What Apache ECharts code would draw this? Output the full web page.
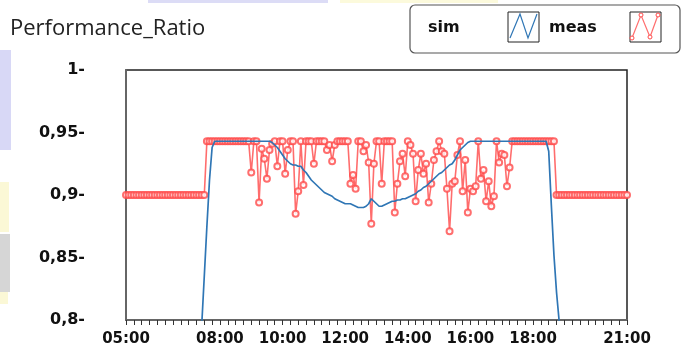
<!DOCTYPE html>
<html>
<head>
<meta charset="utf-8">
<title>Performance_Ratio</title>
<script src="https://cdn.jsdelivr.net/npm/echarts@6/dist/echarts.min.js"></script>
<style>
  html, body { margin: 0; padding: 0; background: #fff; }
  #chart { width: 684px; height: 352px; }
</style>
</head>
<body>
<div id="chart"></div>
<script>
// one value every 5 minutes, from 05:00 to 21:00
var startHour = 5;
var stepMinutes = 5;
var labelHours = [5, 8, 10, 12, 14, 16, 18, 21];

var simValues = [
  null, null, null, null, null, null, null, null, null, null, null, null,
  null, null, null, null, null, null, null, null, null, null, null, null,
  null, null, null, null, 0.70, 0.795, 0.835, 0.875, 0.912, 0.938, 0.943, 0.943,
  0.943, 0.943, 0.943, 0.943, 0.943, 0.943, 0.943, 0.943, 0.943, 0.943, 0.943, 0.943,
  0.943, 0.943, 0.943, 0.943, 0.943, 0.943, 0.943, 0.943, 0.942, 0.940, 0.938, 0.935,
  0.932, 0.929, 0.927, 0.925, 0.924, 0.924, 0.923, 0.923, 0.920, 0.918, 0.915, 0.912,
  0.910, 0.908, 0.906, 0.904, 0.902, 0.901, 0.900, 0.899, 0.897, 0.896, 0.895, 0.894,
  0.893, 0.893, 0.893, 0.892, 0.891, 0.890, 0.890, 0.890, 0.891, 0.893, 0.897, 0.895,
  0.893, 0.891, 0.891, 0.892, 0.893, 0.894, 0.895, 0.895, 0.896, 0.896, 0.897, 0.897,
  0.898, 0.899, 0.900, 0.901, 0.903, 0.904, 0.906, 0.907, 0.909, 0.911, 0.913, 0.915,
  0.917, 0.918, 0.920, 0.922, 0.924, 0.925, 0.928, 0.932, 0.936, 0.938, 0.940, 0.942,
  0.943, 0.943, 0.943, 0.943, 0.943, 0.943, 0.943, 0.943, 0.943, 0.943, 0.943, 0.943,
  0.943, 0.943, 0.943, 0.943, 0.943, 0.943, 0.943, 0.943, 0.943, 0.943, 0.943, 0.943,
  0.943, 0.943, 0.943, 0.943, 0.943, 0.943, 0.935, 0.892, 0.852, 0.822, 0.799, 0.70,
  null, null, null, null, null, null, null, null, null, null, null, null,
  null, null, null, null, null, null, null, null, null, null, null, null,
  null
];

var measValues = [
  0.9, 0.9, 0.9, 0.9, 0.9, 0.9, 0.9, 0.9, 0.9, 0.9, 0.9, 0.9,
  0.9, 0.9, 0.9, 0.9, 0.9, 0.9, 0.9, 0.9, 0.9, 0.9, 0.9, 0.9,
  0.9, 0.9, 0.9, 0.9, 0.9, 0.9, 0.9, 0.943, 0.943, 0.943, 0.943, 0.943,
  0.943, 0.943, 0.943, 0.943, 0.943, 0.943, 0.943, 0.943, 0.943, 0.943, 0.943, 0.943,
  0.918, 0.943, 0.943, 0.894, 0.937, 0.929, 0.913, 0.936, 0.941, 0.943, 0.923, 0.943,
  0.943, 0.917, 0.936, 0.943, 0.943, 0.885, 0.903, 0.943, 0.908, 0.943, 0.943, 0.943,
  0.925, 0.943, 0.943, 0.943, 0.943, 0.936, 0.940, 0.927, 0.940, 0.943, 0.943, 0.943,
  0.943, 0.943, 0.909, 0.916, 0.905, 0.943, 0.943, 0.935, 0.940, 0.926, 0.877, 0.925,
  0.943, 0.943, 0.909, 0.943, 0.943, 0.943, 0.943, 0.886, 0.909, 0.927, 0.933, 0.915,
  0.943, 0.940, 0.933, 0.895, 0.920, 0.933, 0.917, 0.925, 0.894, 0.909, 0.928, 0.935,
  0.943, 0.935, 0.933, 0.905, 0.871, 0.909, 0.911, 0.932, 0.943, 0.903, 0.928, 0.886,
  0.905, 0.903, 0.907, 0.943, 0.913, 0.920, 0.895, 0.911, 0.891, 0.899, 0.943, 0.926,
  0.933, 0.932, 0.907, 0.922, 0.943, 0.943, 0.943, 0.943, 0.943, 0.943, 0.943, 0.943,
  0.943, 0.943, 0.943, 0.943, 0.943, 0.943, 0.943, 0.943, 0.943, 0.9, 0.9, 0.9,
  0.9, 0.9, 0.9, 0.9, 0.9, 0.9, 0.9, 0.9, 0.9, 0.9, 0.9, 0.9,
  0.9, 0.9, 0.9, 0.9, 0.9, 0.9, 0.9, 0.9, 0.9, 0.9, 0.9, 0.9,
  0.9
];

var simColor = '#2f76b5';
var measColor = '#ff4a4a';
var labelFont = 'DejaVu Sans';

function toPairs(values) {
  return values.map(function (v, i) {
    return [startHour + i * stepMinutes / 60, v];
  });
}

function hourLabel(h) {
  return (h < 10 ? '0' : '') + h + ':00';
}

var chart = echarts.init(document.getElementById('chart'));

// legend box drawn by hand: text first, then a small framed zigzag
var legendGraphic = [
  // faint scraps of the page the chart was cut from
  { type: 'rect', z: -10, shape: { x: 148, y: 0, width: 180, height: 3 }, style: { fill: '#dcdcf6' } },
  { type: 'rect', z: -10, shape: { x: 340, y: 0, width: 158, height: 3 }, style: { fill: '#fcfadc' } },
  { type: 'rect', z: -10, shape: { x: 0, y: 50, width: 11, height: 100 }, style: { fill: '#d8d8f6' } },
  { type: 'rect', z: -10, shape: { x: 0, y: 182, width: 9, height: 50 }, style: { fill: '#fbf8d6' } },
  { type: 'rect', z: -10, shape: { x: 0, y: 234, width: 10, height: 58 }, style: { fill: '#d6d6d6' } },
  { type: 'rect', z: -10, shape: { x: 0, y: 292, width: 8, height: 12 }, style: { fill: '#fbf8d6' } },

  { type: 'rect', shape: { x: 410, y: 5, width: 270, height: 48, r: 5 },
    style: { fill: '#fff', stroke: '#555', lineWidth: 1.2 } },
  { type: 'text', x: 428, y: 28,
    style: { text: 'sim', fill: '#111', font: 'bold 16px "DejaVu Sans"', verticalAlign: 'middle' } },
  { type: 'rect', shape: { x: 508, y: 12, width: 31, height: 30 },
    style: { fill: '#fff', stroke: '#222', lineWidth: 1 } },
  { type: 'polyline', shape: { points: [[510, 38], [520, 14], [528, 38], [537, 14]] },
    style: { stroke: simColor, lineWidth: 1.2, fill: null } },
  { type: 'text', x: 549, y: 28,
    style: { text: 'meas', fill: '#111', font: 'bold 16px "DejaVu Sans"', verticalAlign: 'middle' } },
  { type: 'rect', shape: { x: 630, y: 12, width: 31, height: 30 },
    style: { fill: '#fff', stroke: '#222', lineWidth: 1 } },
  { type: 'polyline', shape: { points: [[632, 38], [641, 15], [650, 37], [658, 15]] },
    style: { stroke: measColor, lineWidth: 1.2, fill: null, opacity: 0.8 } }
];
[[632, 38], [641, 15], [650, 37], [658, 15]].forEach(function (p) {
  legendGraphic.push({ type: 'circle', shape: { cx: p[0], cy: p[1], r: 2 },
    style: { fill: '#fff', stroke: measColor, lineWidth: 1 } });
});

var option = {
  animation: false,
  backgroundColor: '#fff',
  title: {
    text: 'Performance_Ratio',
    left: 5,
    top: 13,
    textStyle: { fontFamily: 'Open Sans', fontWeight: 'normal', fontSize: 22, color: '#222' }
  },
  graphic: legendGraphic,
  grid: {
    left: 126,
    right: 57,
    top: 70,
    bottom: 32,
    show: true,
    borderColor: '#222',
    borderWidth: 1.5
  },
  xAxis: {
    type: 'value',
    min: 5,
    max: 21,
    // a tick every quarter hour, labels only on the listed hours
    interval: 0.25,
    axisLine: { lineStyle: { color: '#666', width: 2 } },
    axisTick: { length: 5, lineStyle: { color: '#333' } },
    axisLabel: {
      customValues: labelHours,
      margin: 12,
      fontFamily: labelFont,
      fontWeight: 'bold',
      fontSize: 15,
      color: '#111',
      formatter: function (v) {
        return labelHours.indexOf(v) >= 0 ? hourLabel(v) : '';
      }
    },
    splitLine: { show: false }
  },
  yAxis: {
    type: 'value',
    min: 0.8,
    max: 1,
    interval: 0.05,
    axisLine: { show: true, lineStyle: { color: '#666', width: 2 } },
    axisTick: { show: false },
    splitLine: { show: false },
    axisLabel: {
      margin: 41,
      fontFamily: labelFont,
      fontWeight: 'bold',
      fontSize: 16,
      color: '#111',
      formatter: function (v) {
        return String(+v.toFixed(2)).replace('.', ',') + '-';
      }
    }
  },
  series: [{
    name: 'meas',
    type: 'line',
    data: toPairs(measValues),
    symbol: 'emptyCircle',
    symbolSize: 6,
    lineStyle: { color: 'rgba(255, 60, 60, 0.75)', width: 1.6 },
    itemStyle: { color: measColor, borderWidth: 1.2, opacity: 0.8 },
    z: 2
  }, {
    name: 'sim',
    type: 'line',
    data: toPairs(simValues),
    symbol: 'none',
    clip: true,
    lineStyle: { color: simColor, width: 1.7 },
    z: 3
  }]
};
chart.setOption(option, true);
</script>
</body>
</html>
